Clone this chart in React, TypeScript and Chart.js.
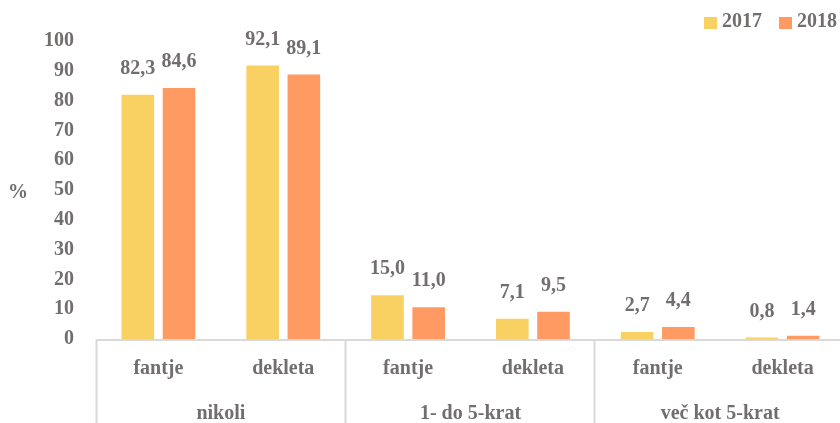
import React, { useEffect, useRef } from "react";
import { Chart, registerables } from "chart.js";

Chart.register(...registerables);

const subCategories = ["fantje", "dekleta", "fantje", "dekleta", "fantje", "dekleta"];
const groups = ["nikoli", "1- do 5-krat", "več kot 5-krat"];
const seriesNames = ["2017", "2018"];
const values2017 = [82.3, 92.1, 15.0, 7.1, 2.7, 0.8];
const values2018 = [84.6, 89.1, 11.0, 9.5, 4.4, 1.4];
const seriesColors = ["#F9D162", "#FE9A62"];
const yTicksMax = 100;
const yTickStep = 10;

const TEXT = "#726E6E";
const FONT_FAMILY = "'Liberation Serif', 'DejaVu Serif', serif";
const FONT = `bold 20px ${FONT_FAMILY}`;

const fmt = (v: number) => v.toFixed(1).replace(".", ",");

const overlay = {
  id: "overlay",
  afterDatasetsDraw(chart: any) {
    const ctx = chart.ctx;
    ctx.save();
    ctx.font = FONT;
    ctx.fillStyle = TEXT;
    ctx.textAlign = "center";
    ctx.textBaseline = "middle";
    chart.data.datasets.forEach((ds: any, di: number) => {
      const meta = chart.getDatasetMeta(di);
      meta.data.forEach((bar: any, i: number) => {
        ctx.fillText(fmt(ds.data[i]), bar.x, bar.y - 25);
      });
    });
    ctx.restore();
  },
  afterDraw(chart: any) {
    const ctx = chart.ctx;
    const area = chart.chartArea;
    const xs = chart.scales.x;
    const H = chart.height;
    ctx.save();
    ctx.strokeStyle = "#D9D9D9";
    ctx.lineWidth = 2;
    ctx.beginPath();
    ctx.moveTo(area.left, area.bottom + 1);
    ctx.lineTo(area.right, area.bottom + 1);
    ctx.stroke();
    const n = subCategories.length;
    const per = n / groups.length;
    const catW = (area.right - area.left) / n;
    for (let g = 0; g <= groups.length; g++) {
      const x = Math.round(area.left + g * per * catW) - 0.5 + (g === 0 ? 1 : 0);
      ctx.beginPath();
      ctx.moveTo(x, area.bottom);
      ctx.lineTo(x, H);
      ctx.stroke();
    }
    ctx.font = FONT;
    ctx.fillStyle = TEXT;
    ctx.textAlign = "center";
    ctx.textBaseline = "middle";
    subCategories.forEach((lab, i) => {
      ctx.fillText(lab, xs.getPixelForValue(i), area.bottom + 30);
    });
    groups.forEach((lab, g) => {
      const cx = area.left + (g + 0.5) * per * catW;
      ctx.fillText(lab, cx, area.bottom + 75);
    });
    ctx.fillText("%", 18, (area.top + area.bottom) / 2 + 3);
    const legendItems = [
      { x: 704, name: seriesNames[0], color: seriesColors[0] },
      { x: 779, name: seriesNames[1], color: seriesColors[1] },
    ];
    ctx.textAlign = "left";
    legendItems.forEach((it) => {
      ctx.fillStyle = it.color;
      ctx.fillRect(it.x, 17, 13, 12);
      ctx.fillStyle = TEXT;
      ctx.fillText(it.name, it.x + 18, 22);
    });
    ctx.restore();
  },
};

export default function App() {
  const ref = useRef<HTMLCanvasElement | null>(null);
  useEffect(() => {
    if (!ref.current) return;
    const chart = new Chart(ref.current, {
      type: "bar",
      data: {
        labels: subCategories,
        datasets: [
          {
            label: seriesNames[0],
            data: values2017,
            backgroundColor: seriesColors[0],
            borderColor: "#FFFFFF",
            borderWidth: 1,
            categoryPercentage: 0.66,
            barPercentage: 0.84,
          },
          {
            label: seriesNames[1],
            data: values2018,
            backgroundColor: seriesColors[1],
            borderColor: "#FFFFFF",
            borderWidth: 1,
            categoryPercentage: 0.66,
            barPercentage: 0.84,
          },
        ],
      },
      options: {
        responsive: false,
        animation: false,
        devicePixelRatio: 1,
        layout: { padding: { top: 41, left: 0, right: 0, bottom: 0 } },
        plugins: { legend: { display: false }, tooltip: { enabled: false } },
        scales: {
          x: {
            grid: { display: false },
            border: { display: false },
            ticks: { display: false },
            afterFit: (s: any) => {
              s.height = 84;
            },
          },
          y: {
            min: 0,
            max: yTicksMax,
            grid: { display: false },
            border: { display: false },
            ticks: {
              stepSize: yTickStep,
              color: TEXT,
              font: { family: FONT_FAMILY, size: 20, weight: "bold" },
              padding: 14,
            },
            afterFit: (s: any) => {
              s.width = 96;
            },
          },
        },
      },
      plugins: [overlay],
    });
    return () => chart.destroy();
  }, []);
  return (
    <div style={{ position: "fixed", left: 0, top: 0, width: 840, height: 423, overflow: "hidden", background: "#fff" }}>
      <canvas ref={ref} width={845} height={423} style={{ display: "block" }} />
    </div>
  );
}
